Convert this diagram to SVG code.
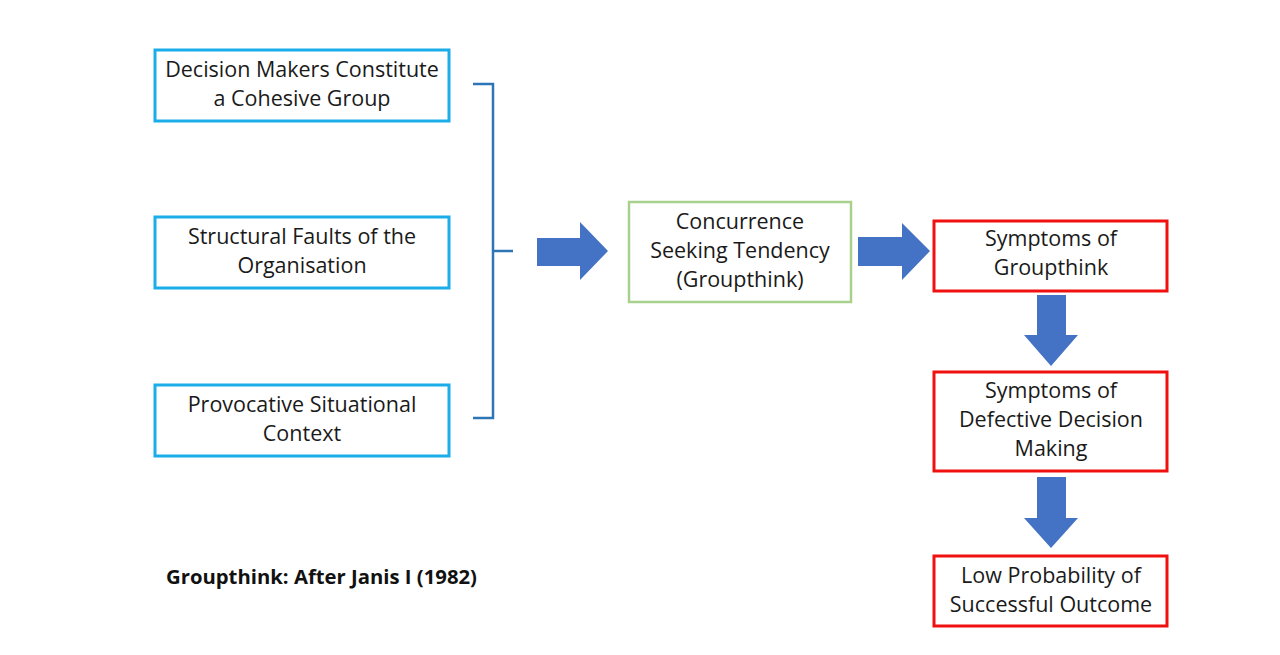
<svg xmlns="http://www.w3.org/2000/svg" width="1280" height="655" viewBox="0 0 1280 655">
  <style>
    .box { fill: #ffffff; stroke-width: 3; }
    .cause { stroke: #1AADEA; }
    .core { stroke: #A9D18E; stroke-width: 2.5; }
    .effect { stroke: #F01010; }
    .lbl { font-family: "Open Sans", "Liberation Sans", Arial, sans-serif; font-size: 21.5px; fill: #1a1a1a; text-anchor: middle; }
    .bracket { fill: none; stroke: #2E75B6; stroke-width: 2.5; }
    .flow { fill: #4472C4; }
    .caption { font-family: "Open Sans", "Liberation Sans", Arial, sans-serif; font-size: 20.3px; font-weight: bold; fill: #111; }
  </style>

  <rect width="1280" height="655" fill="#ffffff"/>

  <!-- antecedent conditions -->
  <g id="node-cohesive">
    <rect class="box cause" x="155" y="50" width="294" height="71"/>
    <text class="lbl" x="302" y="77">Decision Makers Constitute</text>
    <text class="lbl" x="302" y="106">a Cohesive Group</text>
  </g>
  <g id="node-structural">
    <rect class="box cause" x="155" y="217" width="294" height="71"/>
    <text class="lbl" x="302" y="244">Structural Faults of the</text>
    <text class="lbl" x="302" y="273">Organisation</text>
  </g>
  <g id="node-provocative">
    <rect class="box cause" x="155" y="385" width="294" height="71"/>
    <text class="lbl" x="302" y="412">Provocative Situational</text>
    <text class="lbl" x="302" y="441">Context</text>
  </g>

  <!-- central tendency -->
  <g id="node-concurrence">
    <rect class="box core" x="629" y="202" width="222" height="100"/>
    <text class="lbl" x="740" y="229">Concurrence</text>
    <text class="lbl" x="740" y="258">Seeking Tendency</text>
    <text class="lbl" x="740" y="287">(Groupthink)</text>
  </g>

  <!-- consequences -->
  <g id="node-symptoms">
    <rect class="box effect" x="934" y="221" width="233" height="70"/>
    <text class="lbl" x="1051" y="246">Symptoms of</text>
    <text class="lbl" x="1051" y="275">Groupthink</text>
  </g>
  <g id="node-defective">
    <rect class="box effect" x="934" y="372" width="233" height="99"/>
    <text class="lbl" x="1051" y="398">Symptoms of</text>
    <text class="lbl" x="1051" y="427">Defective Decision</text>
    <text class="lbl" x="1051" y="456">Making</text>
  </g>
  <g id="node-outcome">
    <rect class="box effect" x="934" y="556" width="233" height="70"/>
    <text class="lbl" x="1051" y="583">Low Probability of</text>
    <text class="lbl" x="1051" y="612">Successful Outcome</text>
  </g>

  <!-- connectors -->
  <g id="connectors">
    <path class="bracket" d="M473 84 H493 V418 H473 M493 251 H513"/>
    <path class="flow" d="M537 238 H580 V222 L608 251 L580 280 V266 H537 Z"/>
    <path class="flow" d="M858 237 H902 V223 L930 251 L902 280 V266 H858 Z"/>
    <path class="flow" d="M1037 295 H1066 V335 H1078 L1051 366 L1024 335 H1037 Z"/>
    <path class="flow" d="M1037 477 H1066 V518 H1078 L1051 548 L1024 518 H1037 Z"/>
  </g>

  <text class="caption" x="166" y="584">Groupthink: After Janis I (1982)</text>
</svg>
